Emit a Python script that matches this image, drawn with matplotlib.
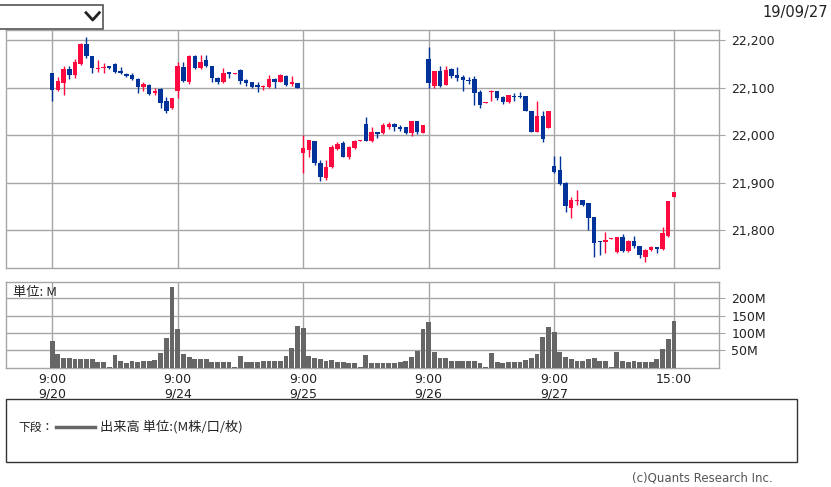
import matplotlib.pyplot as plt
from matplotlib.patches import Rectangle
from matplotlib.lines import Line2D
import numpy as np

# 15分足 日経225 (9/20 - 9/27), 1日 22 本 (9:00 ... 11:30, 12:30 ... 15:00)
dias      = ['9/20', '9/24', '9/25', '9/26', '9/27']
BARRAS_DIA = 22

apertura = [22132, 22095, 22109, 22140, 22127, 22150, 22192, 22166, 22140, 22141, 22145,
            22150, 22136, 22129, 22126, 22119, 22102, 22106, 22088, 22097, 22071, 22057,
            22093, 22143, 22111, 22167, 22141, 22159, 22145, 22121, 22111, 22134, 22129,
            22138, 22117, 22111, 22106, 22101, 22101, 22118, 22113, 22125, 22107, 22109,
            21962, 21969, 21988, 21942, 21911, 21934, 21970, 21983, 21954, 21973, 21987,
            22024, 21988, 22006, 22004, 22018, 22024, 22017, 22017, 22004, 22030, 22004,
            22161, 22104, 22135, 22106, 22139, 22127, 22122, 22117, 22118, 22092, 22067,
            22090, 22093, 22081, 22069, 22083, 22083, 22083, 22051, 22006, 22041, 22015,
            21935, 21927, 21899, 21846, 21861, 21864, 21857, 21827, 21778, 21776, 21781,
            21755, 21785, 21757, 21778, 21767, 21744, 21758, 21764, 21760, 21787, 21871]
maximo   = [22132, 22122, 22146, 22146, 22160, 22194, 22206, 22166, 22159, 22152, 22146,
            22152, 22143, 22132, 22131, 22120, 22111, 22108, 22099, 22099, 22080, 22079,
            22155, 22155, 22169, 22169, 22169, 22169, 22145, 22123, 22142, 22134, 22132,
            22139, 22118, 22112, 22113, 22106, 22127, 22120, 22129, 22127, 22124, 22109,
            22001, 21990, 21988, 21948, 21948, 21980, 21985, 21987, 21977, 21990, 21990,
            22038, 22017, 22006, 22025, 22027, 22025, 22022, 22018, 22030, 22030, 22022,
            22185, 22135, 22145, 22146, 22141, 22143, 22127, 22122, 22124, 22095, 22070,
            22095, 22093, 22083, 22085, 22088, 22091, 22083, 22051, 22071, 22050, 22051,
            21956, 21956, 21902, 21869, 21885, 21864, 21858, 21827, 21778, 21797, 21783,
            21785, 21792, 21780, 21788, 21767, 21760, 21767, 21764, 21806, 21862, 21880]
minimo   = [22071, 22093, 22084, 22118, 22120, 22148, 22163, 22132, 22134, 22131, 22140,
            22131, 22128, 22122, 22117, 22088, 22093, 22085, 22085, 22057, 22046, 22055,
            22078, 22113, 22108, 22139, 22139, 22143, 22111, 22107, 22109, 22120, 22129,
            22108, 22104, 22099, 22092, 22095, 22099, 22099, 22111, 22104, 22104, 22099,
            21920, 21954, 21938, 21904, 21906, 21932, 21969, 21954, 21951, 21971, 21987,
            21987, 21986, 21994, 22003, 22013, 22008, 22009, 22003, 21999, 22003, 22004,
            22099, 22099, 22102, 22105, 22121, 22115, 22093, 22108, 22064, 22057, 22067,
            22071, 22075, 22066, 22067, 22071, 22079, 22050, 22006, 22006, 21985, 22015,
            21921, 21895, 21839, 21825, 21853, 21851, 21801, 21744, 21748, 21753, 21781,
            21753, 21755, 21755, 21762, 21741, 21734, 21756, 21753, 21758, 21786, 21871]
cierre   = [22095, 22115, 22140, 22127, 22154, 22192, 22166, 22141, 22142, 22143, 22142,
            22133, 22131, 22124, 22118, 22101, 22107, 22087, 22094, 22067, 22051, 22079,
            22146, 22114, 22167, 22141, 22155, 22145, 22120, 22111, 22132, 22129, 22132,
            22114, 22109, 22101, 22102, 22104, 22118, 22113, 22127, 22106, 22111, 22099,
            21973, 21989, 21941, 21913, 21934, 21976, 21982, 21954, 21975, 21988, 21990,
            21988, 22006, 22003, 22022, 22024, 22018, 22014, 22004, 22030, 22006, 22022,
            22109, 22135, 22104, 22138, 22124, 22120, 22117, 22114, 22088, 22064, 22070,
            22093, 22078, 22069, 22084, 22080, 22081, 22050, 22006, 22041, 21992, 22051,
            21923, 21897, 21850, 21864, 21864, 21853, 21825, 21773, 21775, 21780, 21783,
            21785, 21757, 21778, 21766, 21748, 21758, 21764, 21761, 21794, 21862, 21880]

# 出来高 (M)
volumen = [78, 38.5, 29, 27, 24, 24, 24, 24, 17, 17, 1, 37.5, 19, 14.4, 19, 17, 19, 20, 22, 41, 85, 232,
           110.6, 38.5, 30, 24, 24, 24, 17, 17, 16, 15, 1, 33.7, 17, 17, 17, 20, 20, 20, 20, 33.7, 55.8, 120,
           113.5, 33.7, 27, 24, 20, 22, 17, 17, 14, 12.5, 1, 36.5, 12.5, 12.5, 12.5, 12.5, 12.5, 17, 20, 30, 48, 110.6,
           130.8, 46, 27, 27, 20, 20, 20, 20, 20, 14.4, 1, 41, 17, 14.4, 15, 17, 17, 22, 27, 38.5, 87.5, 116,
           102, 46, 30, 25, 20, 20, 24, 27, 20, 20, 1, 46, 20, 17, 20, 17, 17, 17, 24, 53, 82, 135.6]

precios_ticks = [21800, 21900, 22000, 22100, 22200]
vol_ticks     = [50, 100, 150, 200]

ROJO  = '#ff0a40'
AZUL  = '#003399'
GRIS  = '#a6a6a6'
FUENTE_JP = ['Noto Sans CJK JP', 'DejaVu Sans']

o = np.array(apertura, dtype=float)
h = np.array(maximo, dtype=float)
l = np.array(minimo, dtype=float)
c = np.array(cierre, dtype=float)
x = np.arange(len(o))

fig = plt.figure(figsize=(8.31, 4.87), dpi=100)
ax  = fig.add_axes([6/831, 1 - 268/487, 713/831, 238/487])
axv = fig.add_axes([6/831, 1 - 367.7/487, 713/831, 86/487])

# velas
colores = np.where(c >= o, ROJO, AZUL)
ax.vlines(x, l, h, colors=colores, linewidth=1.0, zorder=3)
cuerpo = np.maximum(np.abs(c - o), 2.5)
ax.bar(x, cuerpo, bottom=np.minimum(o, c), width=0.78, color=colores, linewidth=0, zorder=4)

axv.bar(x, volumen, width=0.85, color='#666666', linewidth=0, zorder=3)

pos_dias = [i * BARRAS_DIA for i in range(len(dias))]
pos_grid = pos_dias + [len(o) - 1]

for a in (ax, axv):
    a.set_xlim(-8.1, 116.9)
    a.set_xticks(pos_grid)
    a.grid(True, color=GRIS, linewidth=1.0)
    a.set_axisbelow(True)
    for s in a.spines.values():
        s.set_color(GRIS)
        s.set_linewidth(1.0)
    a.yaxis.tick_right()
    a.tick_params(axis='y', length=4.5, width=0.8, color=GRIS, pad=4.5,
                  labelsize=9, labelcolor='#222222')
    a.tick_params(axis='x', length=0)

ax.set_ylim(21720.5, 22221.5)
ax.set_yticks(precios_ticks)
ax.set_yticklabels([f'{p:,}' for p in precios_ticks])
ax.set_xticklabels([])

axv.set_ylim(0, 248)
axv.set_yticks(vol_ticks)
axv.set_yticklabels([f'{v}M' for v in vol_ticks])
axv.set_xticklabels([f'9:00\n{d}' for d in dias] + ['15:00'], fontsize=9,
                    color='#222222', va='top', linespacing=1.15)
axv.tick_params(axis='x', pad=4)
axv.text(0.01, 0.95, '単位: M', transform=axv.transAxes, ha='left', va='top',
         fontsize=9.5, family=FUENTE_JP, color='#222222')

# desplegable arriba a la izquierda
fig.patches.append(Rectangle((-1/831, 1 - 29.3/487), 104/831, 24.3/487,
                             transform=fig.transFigure, facecolor='white',
                             edgecolor='#555555', linewidth=1.2))
fig.lines.append(Line2D([86/831, 92.7/831, 99.3/831],
                        [1 - 12.7/487, 1 - 20/487, 1 - 12.7/487],
                        transform=fig.transFigure, color='#222222', linewidth=2.0))
fig.text(828/831, 1 - 12/487, '19/09/27', ha='right', va='center', fontsize=10.5,
         color='#222222')

# leyenda
fig.patches.append(Rectangle((6/831, 1 - 462/487), 791/831, 63/487,
                             transform=fig.transFigure, facecolor='white',
                             edgecolor='#333333', linewidth=1.0))
fig.text(18/831, 1 - 427/487, '下段：', ha='left', va='center', fontsize=8.5,
         family=FUENTE_JP, color='#222222')
fig.lines.append(Line2D([56/831, 95/831], [1 - 427/487, 1 - 427/487],
                        transform=fig.transFigure, color='#666666', linewidth=2.5))
fig.text(100/831, 1 - 427/487, '出来高 単位:(M株/口/枚)', ha='left', va='center',
         fontsize=9.5, family=FUENTE_JP, color='#222222')
fig.text(773/831, 1 - 478/487, '(c)Quants Research Inc.', ha='right', va='center',
         fontsize=8.5, color='#555555')

fig.savefig('out.png', dpi=100)
